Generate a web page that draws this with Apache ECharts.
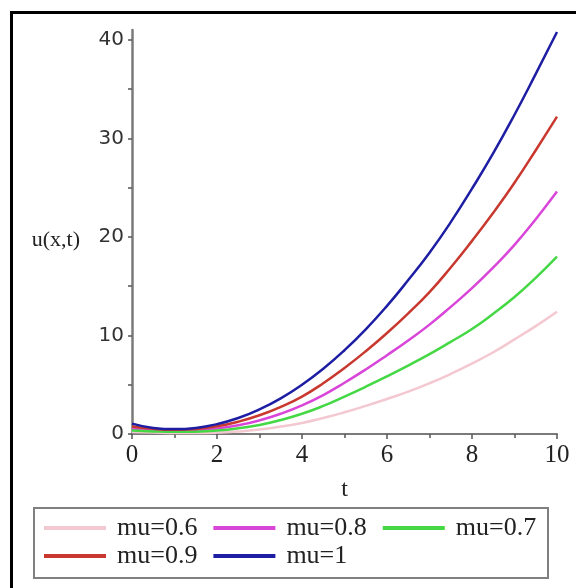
<!DOCTYPE html>
<html>
<head>
<meta charset="utf-8">
<script src="https://cdn.jsdelivr.net/npm/echarts@6/dist/echarts.min.js"></script>
<style>
html,body{margin:0;padding:0;background:#fff;}
#chart{width:576px;height:588px;}
</style>
</head>
<body>
<div id="chart"></div>
<script>
const tValues = [0,0.5,1,1.5,2,2.5,3,3.5,4,4.5,5,5.5,6,6.5,7,7.5,8,8.5,9,9.5,10];
const u06 = [0.2,0.14,0.1,0.1,0.14,0.25,0.45,0.75,1.12,1.62,2.2,2.85,3.55,4.3,5.15,6.1,7.15,8.3,9.6,10.95,12.4];
const u08 = [0.55,0.4,0.33,0.38,0.55,0.88,1.38,2.05,2.9,3.95,5.2,6.55,8.0,9.5,11.1,12.9,14.8,16.9,19.2,21.8,24.6];
const u07 = [0.35,0.26,0.22,0.24,0.35,0.58,0.92,1.42,2.05,2.85,3.8,4.8,5.85,6.95,8.1,9.35,10.65,12.2,13.9,15.85,18.0];
const u09 = [0.75,0.52,0.42,0.5,0.78,1.25,1.9,2.75,3.8,5.15,6.7,8.4,10.25,12.25,14.4,16.9,19.6,22.45,25.5,28.8,32.2];
const u10 = [1.05,0.62,0.5,0.62,1.0,1.62,2.5,3.62,5.0,6.62,8.5,10.62,13.0,15.62,18.4,21.5,24.9,28.5,32.4,36.55,40.8];
const seriesNames = ['mu=0.6','mu=0.8','mu=0.7','mu=0.9','mu=1'];
const seriesData = [u06,u08,u07,u09,u10];
const seriesColors = ['#f4c8d0','#d845d8','#45d845','#c8382e','#1e1ea4'];
const legendRow1 = ['mu=0.6','mu=0.8','mu=0.7'];
const legendRow2 = ['mu=0.9','mu=1'];
const yTickLabels = [0,10,20,30,40];
const yTickMarks = [0,5,10,15,20,25,30,35,40];
const xTickLabels = [0,2,4,6,8,10];

const chart = echarts.init(document.getElementById('chart'));
const serif = 'Liberation Serif';
const legendBase = {
  orient:'horizontal', left:44, padding:0,
  icon:'rect', itemWidth:62, itemHeight:4, itemGap:16,
  textStyle:{fontFamily:serif,fontSize:26,color:'#222',padding:[0,0,0,6]}
};
const option = {
  animation:false,
  backgroundColor:'#fff',
  graphic:[
    {type:'rect',shape:{x:11.5,y:12.5,width:620,height:620},style:{fill:'none',stroke:'#000',lineWidth:3},z:100},
    {type:'rect',shape:{x:34,y:508,width:514,height:70},style:{fill:'none',stroke:'#808080',lineWidth:2},z:100}
  ],
  grid:{left:132,right:19,top:30,bottom:154},
  legend:[
    Object.assign({}, legendBase, {top:515, data:legendRow1}),
    Object.assign({}, legendBase, {top:543, data:legendRow2})
  ],
  xAxis:{
    type:'value', min:0, max:10, interval:2,
    name:'t', nameLocation:'middle', nameGap:44,
    nameTextStyle:{fontFamily:serif,fontSize:24,color:'#222'},
    axisLine:{show:true,onZero:false,lineStyle:{color:'#7a7a7a',width:2}},
    axisTick:{show:true,length:5,lineStyle:{color:'#555',width:1.5}},
    minorTick:{show:true,splitNumber:2,length:4,lineStyle:{color:'#555',width:1.5}},
    axisLabel:{fontFamily:serif,fontSize:25,color:'#222',margin:9},
    splitLine:{show:false}
  },
  yAxis:{
    type:'value', min:0, max:41,
    name:'u(x,t)', nameLocation:'middle', nameRotate:0, nameGap:52,
    nameTextStyle:{fontFamily:serif,fontSize:22,color:'#222',verticalAlign:'top',lineHeight:16},
    axisLine:{show:true,onZero:false,lineStyle:{color:'#7a7a7a',width:2.5}},
    axisTick:{show:true,length:4,customValues:yTickMarks,lineStyle:{color:'#555',width:1.5}},
    axisLabel:{fontFamily:'DejaVu Sans',fontSize:20,color:'#333',margin:8,customValues:yTickLabels},
    splitLine:{show:false}
  },
  series: seriesNames.map((n,i)=>({
    name:n, type:'line', smooth:0.5, showSymbol:false,
    data: tValues.map((t,j)=>[t, seriesData[i][j]]),
    lineStyle:{color:seriesColors[i],width:2.5},
    itemStyle:{color:seriesColors[i]}
  }))
};
chart.setOption(option);
</script>
</body>
</html>
